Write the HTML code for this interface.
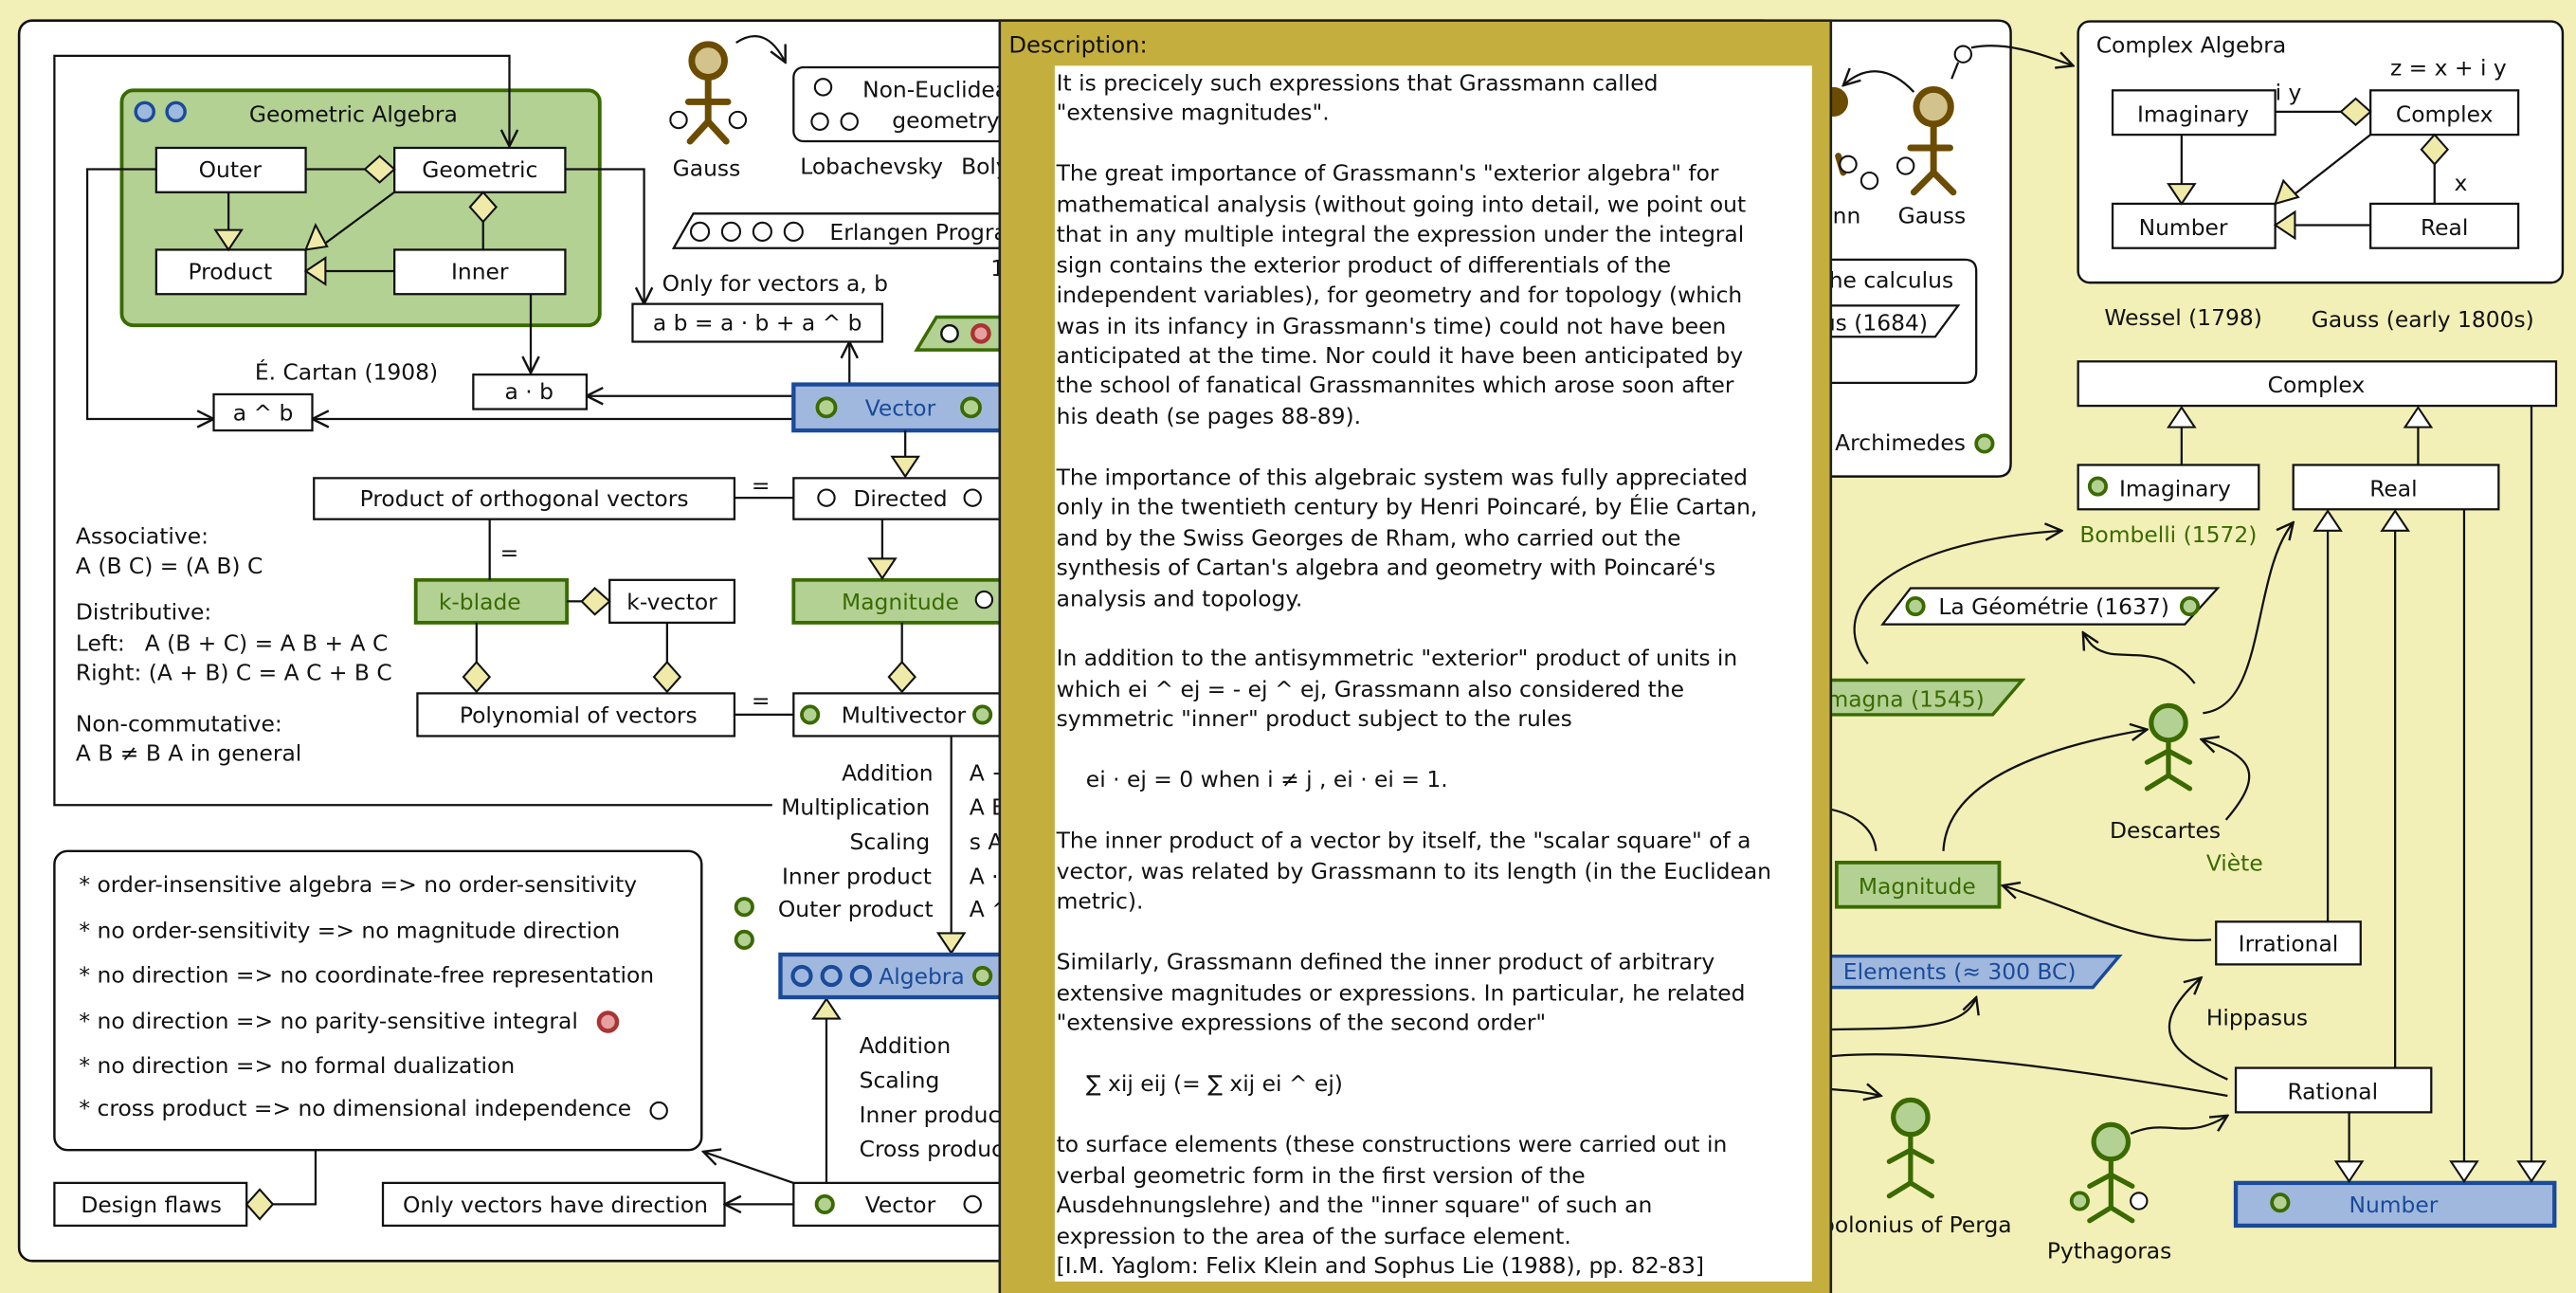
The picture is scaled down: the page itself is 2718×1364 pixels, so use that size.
<!DOCTYPE html>
<html><head><meta charset="utf-8"><style>
html,body{margin:0;padding:0;background:#f2f0b7;}
svg{display:block;}
text{font-family:"DejaVu Sans","Liberation Sans",sans-serif;font-size:13.5px;fill:#111;}
.g{fill:#3a6a00}.b{fill:#1a4a99}
</style></head><body>
<svg width="2718" height="1364" viewBox="0 0 1568 787" xmlns="http://www.w3.org/2000/svg">
<rect x="0" y="0" width="1568" height="787" fill="#f2f0b7"/>
<defs>
<marker id="oa" viewBox="0 0 12 12" refX="11" refY="6" markerWidth="12" markerHeight="12" markerUnits="userSpaceOnUse" orient="auto"><path d="M1,1 L11,6 L1,11" fill="none" stroke="#111" stroke-width="1.4"/></marker>
</defs>
<!-- main left panel -->
<rect x="11.5" y="12.5" width="1070" height="755" rx="8" fill="#fff" stroke="#111" stroke-width="1.5"/>
<!-- Geometric Algebra package -->
<rect x="74" y="55" width="291" height="143" rx="7" fill="#b3d193" stroke="#3a6a00" stroke-width="2.2"/>
<g stroke="#111" stroke-width="1.3" fill="none">
<polyline points="470,490 33,490 33,34 310,34 310,89" marker-end="url(#oa)"/>
</g>
<circle cx="88" cy="68" r="5.5" fill="#9fb8de" stroke="#1a4a99" stroke-width="2"/>
<circle cx="107" cy="68" r="5.5" fill="#9fb8de" stroke="#1a4a99" stroke-width="2"/>
<text x="215" y="74" text-anchor="middle">Geometric Algebra</text>
<g stroke="#111" stroke-width="1.3" fill="#fff">
<rect x="95" y="90" width="91" height="27"/><rect x="240" y="90" width="104" height="27"/>
<rect x="95" y="152" width="91" height="27"/><rect x="240" y="152" width="104" height="27"/>
</g>
<text x="140" y="108" text-anchor="middle">Outer</text>
<text x="292" y="108" text-anchor="middle">Geometric</text>
<text x="140" y="170" text-anchor="middle">Product</text>
<text x="292" y="170" text-anchor="middle">Inner</text>
<g stroke="#111" stroke-width="1.3" fill="none">
<line x1="186" y1="103" x2="222" y2="103"/>
<line x1="139" y1="117" x2="139" y2="140"/>
<line x1="240" y1="117" x2="198" y2="148"/>
<line x1="240" y1="165" x2="198" y2="165"/>
<line x1="294" y1="135" x2="294" y2="152"/>
<polyline points="95,103 53,103 53,255 130,255" marker-end="url(#oa)"/>
<polyline points="344,103 392,103 392,185" marker-end="url(#oa)"/>
<polyline points="323,179 323,227" marker-end="url(#oa)"/>
<polyline points="483,241 357,241" marker-end="url(#oa)"/>
<polyline points="483,255 190,255" marker-end="url(#oa)"/>
<polyline points="517,234 517,208" marker-end="url(#oa)"/>
</g>
<g stroke="#111" stroke-width="1.2" fill="#efeaa8">
<polygon points="222,103 231,95 240,103 231,111"/>
<polygon points="131,140 147,140 139,152"/>
<polygon points="186,152 192,137 199,150"/>
<polygon points="186,165 198,157 198,173"/>
<polygon points="294,117 302,126 294,135 286,126"/>
</g>
<text x="155" y="231">É. Cartan (1908)</text>
<g stroke="#111" stroke-width="1.3" fill="#fff">
<rect x="130" y="240" width="60" height="22"/><rect x="288" y="228" width="69" height="21"/>
<rect x="385" y="185" width="152" height="23"/>
</g>
<text x="160" y="256" text-anchor="middle">a ^ b</text>
<text x="322" y="243" text-anchor="middle">a · b</text>
<text x="461" y="201" text-anchor="middle">a b = a · b + a ^ b</text>
<text x="403" y="177">Only for vectors a, b</text>
<!-- Gauss left -->
<g stroke="#6b4c00" stroke-width="4" fill="none" stroke-linecap="round">
<line x1="431" y1="48" x2="431" y2="74"/><line x1="419" y1="62" x2="443" y2="62"/>
<line x1="431" y1="74" x2="420" y2="86"/><line x1="431" y1="74" x2="442" y2="86"/>
</g>
<circle cx="431" cy="37" r="10" fill="#d2c28c" stroke="#6b4c00" stroke-width="4"/>
<circle cx="413" cy="73" r="5" fill="#fff" stroke="#111" stroke-width="1.2"/>
<circle cx="449" cy="73" r="5" fill="#fff" stroke="#111" stroke-width="1.2"/>
<text x="430" y="107" text-anchor="middle">Gauss</text>
<path d="M448,26 C460,18 470,22 478,38" fill="none" stroke="#111" stroke-width="1.3" marker-end="url(#oa)"/>
<rect x="483" y="41" width="200" height="45" rx="6" fill="#fff" stroke="#111" stroke-width="1.3"/>
<g fill="#fff" stroke="#111" stroke-width="1.2"><circle cx="501" cy="53" r="5"/><circle cx="499" cy="74" r="5"/><circle cx="517" cy="74" r="5"/></g>
<text x="525" y="59">Non-Euclidean</text><text x="543" y="78">geometry</text>
<text x="487" y="106">Lobachevsky</text><text x="585" y="106">Bolyai</text>
<polygon points="422,130 640,130 640,151 410,151" fill="#fff" stroke="#111" stroke-width="1.3"/>
<g fill="#fff" stroke="#111" stroke-width="1.2"><circle cx="426" cy="141" r="5.5"/><circle cx="445" cy="141" r="5.5"/><circle cx="464" cy="141" r="5.5"/><circle cx="483" cy="141" r="5.5"/></g>
<text x="505" y="146">Erlangen Program</text>
<text x="603" y="168">1</text>
<polygon points="570,193 640,193 640,213 558,213" fill="#b3d193" stroke="#3a6a00" stroke-width="2"/>
<circle cx="578" cy="203" r="5" fill="#fff" stroke="#111" stroke-width="1.4"/>
<circle cx="597" cy="203" r="5" fill="#e6a0a0" stroke="#a33" stroke-width="2.5"/>
<!-- center column -->
<rect x="483" y="234" width="160" height="28" fill="#a0b8de" stroke="#1a4a99" stroke-width="2.5"/>
<circle cx="503" cy="248" r="5.5" fill="#b3d193" stroke="#3a6a00" stroke-width="2.2"/>
<circle cx="591" cy="248" r="5.5" fill="#b3d193" stroke="#3a6a00" stroke-width="2.2"/>
<text x="548" y="253" text-anchor="middle" class="b">Vector</text>
<g stroke="#111" stroke-width="1.3" fill="#fff">
<rect x="483" y="291" width="160" height="25"/>
<rect x="191" y="291" width="256" height="25"/>
<rect x="371" y="353" width="76" height="26"/>
<rect x="254" y="422" width="193" height="26"/>
<rect x="483" y="422" width="160" height="26"/>
</g>
<rect x="483" y="353" width="160" height="26" fill="#b3d193" stroke="#3a6a00" stroke-width="2.2"/>
<rect x="253" y="353" width="92" height="26" fill="#b3d193" stroke="#3a6a00" stroke-width="2.2"/>
<g fill="#fff" stroke="#111" stroke-width="1.2"><circle cx="503" cy="303" r="5"/><circle cx="592" cy="303" r="5"/><circle cx="599" cy="365" r="5"/></g>
<circle cx="493" cy="435" r="5" fill="#b3d193" stroke="#3a6a00" stroke-width="2.2"/>
<circle cx="598" cy="435" r="5" fill="#b3d193" stroke="#3a6a00" stroke-width="2.2"/>
<text x="548" y="308" text-anchor="middle">Directed</text>
<text x="319" y="308" text-anchor="middle">Product of orthogonal  vectors</text>
<text x="548" y="371" text-anchor="middle" class="g">Magnitude</text>
<text x="292" y="371" text-anchor="middle" class="g">k-blade</text>
<text x="409" y="371" text-anchor="middle">k-vector</text>
<text x="352" y="440" text-anchor="middle">Polynomial of vectors</text>
<text x="550" y="440" text-anchor="middle">Multivector</text>
<g stroke="#111" stroke-width="1.3" fill="none">
<line x1="551" y1="262" x2="551" y2="278"/><line x1="447" y1="303" x2="483" y2="303"/>
<line x1="537" y1="316" x2="537" y2="340"/><line x1="298" y1="316" x2="298" y2="353"/>
<line x1="345" y1="366" x2="354" y2="366"/>
<line x1="290" y1="379" x2="290" y2="403"/><line x1="406" y1="379" x2="406" y2="403"/>
<line x1="549" y1="379" x2="549" y2="403"/><line x1="447" y1="435" x2="483" y2="435"/>
<line x1="579" y1="448" x2="579" y2="568"/>
<line x1="503" y1="720" x2="503" y2="620"/>
</g>
<g stroke="#111" stroke-width="1.2" fill="#efeaa8">
<polygon points="543,278 559,278 551,290"/>
<polygon points="529,340 545,340 537,352"/>
<polygon points="354,366 362,358 371,366 362,374"/>
<polygon points="290,403 298,412 290,421 282,412"/>
<polygon points="406,403 414,412 406,421 398,412"/>
<polygon points="549,403 557,412 549,421 541,412"/>
<polygon points="571,568 587,568 579,580"/>
<polygon points="495,620 511,620 503,608"/>
</g>
<text x="463" y="300" text-anchor="middle">=</text>
<text x="310" y="341" text-anchor="middle">=</text>
<text x="463" y="431" text-anchor="middle">=</text>
<text x="46" y="331">Associative:</text><text x="46" y="349">A (B C) = (A B) C</text>
<text x="46" y="377">Distributive:</text>
<text x="46" y="396">Left:</text><text x="88" y="396">A (B + C) = A B + A C</text>
<text x="46" y="414">Right: (A + B) C = A C + B C</text>
<text x="46" y="445">Non-commutative:</text><text x="46" y="463">A B ≠ B A in general</text>
<g text-anchor="end">
<text x="568" y="475">Addition</text><text x="566" y="496">Multiplication</text>
<text x="566" y="517">Scaling</text><text x="567" y="538">Inner product</text><text x="568" y="558">Outer product</text>
</g>
<text x="590" y="475">A + B</text><text x="590" y="496">A B</text><text x="590" y="517">s A</text><text x="590" y="538">A · B</text><text x="590" y="558">A ^ B</text>
<circle cx="453" cy="552" r="5" fill="#b3d193" stroke="#3a6a00" stroke-width="2.2"/>
<circle cx="453" cy="572" r="5" fill="#b3d193" stroke="#3a6a00" stroke-width="2.2"/>
<rect x="475" y="581" width="168" height="26" fill="#a0b8de" stroke="#1a4a99" stroke-width="2.5"/>
<g fill="none" stroke="#1a4a99" stroke-width="2.4"><circle cx="488" cy="594" r="5.5"/><circle cx="506" cy="594" r="5.5"/><circle cx="524" cy="594" r="5.5"/></g>
<text x="561" y="599" text-anchor="middle" class="b">Algebra</text>
<circle cx="598" cy="594" r="5" fill="#b3d193" stroke="#3a6a00" stroke-width="2.2"/>
<text x="523" y="641">Addition</text><text x="523" y="662">Scaling</text><text x="523" y="683">Inner product</text><text x="523" y="704">Cross product</text>
<!-- flaws -->
<rect x="33" y="518" width="394" height="182" rx="8" fill="#fff" stroke="#111" stroke-width="1.4"/>
<text x="48" y="543">* order-insensitive algebra =&gt; no order-sensitivity</text>
<text x="48" y="571">* no order-sensitivity =&gt; no magnitude direction</text>
<text x="48" y="598">* no direction =&gt; no coordinate-free representation</text>
<text x="48" y="626">* no direction =&gt; no parity-sensitive integral</text>
<text x="48" y="653">* no direction =&gt; no formal dualization</text>
<text x="48" y="679">* cross product =&gt; no dimensional independence</text>
<circle cx="370" cy="622" r="5.5" fill="#e6a0a0" stroke="#a33" stroke-width="2.6"/>
<circle cx="401" cy="676" r="5" fill="#fff" stroke="#111" stroke-width="1.2"/>
<g stroke="#111" stroke-width="1.3" fill="#fff">
<rect x="33" y="720" width="117" height="26"/><rect x="233" y="720" width="208" height="26"/><rect x="483" y="720" width="160" height="26"/>
</g>
<text x="92" y="738" text-anchor="middle">Design flaws</text>
<text x="338" y="738" text-anchor="middle">Only vectors have direction</text>
<text x="548" y="738" text-anchor="middle">Vector</text>
<circle cx="502" cy="733" r="5" fill="#b3d193" stroke="#3a6a00" stroke-width="2.2"/>
<circle cx="592" cy="733" r="5" fill="#fff" stroke="#111" stroke-width="1.2"/>
<g stroke="#111" stroke-width="1.3" fill="none">
<polyline points="192,700 192,733 166,733"/>
<polyline points="483,733 441,733" marker-end="url(#oa)"/>
<polyline points="483,720 428,701" marker-end="url(#oa)"/>
</g>
<polygon points="150,733 158,724 166,733 158,742" fill="#efeaa8" stroke="#111" stroke-width="1.2"/>

<!-- middle-right panel (partly hidden) -->
<path d="M1100,12.5 L1216,12.5 Q1224,12.5 1224,20 L1224,282 Q1224,290 1216,290 L1100,290 Z" fill="#fff" stroke="#111" stroke-width="1.4"/>
<path d="M1100,158 L1196,158 Q1203,158 1203,165 L1203,226 Q1203,233 1196,233 L1100,233" fill="none" stroke="#111" stroke-width="1.3"/>
<text x="1108" y="175">the calculus</text>
<polygon points="1100,186 1192,186 1178,205 1100,205" fill="#fff" stroke="#111" stroke-width="1.3"/>
<text x="1105" y="201">lus (1684)</text>
<text x="1117" y="274">Archimedes</text>
<circle cx="1208" cy="270" r="5" fill="#b3d193" stroke="#3a6a00" stroke-width="2.2"/>
<g stroke="#6b4c00" stroke-width="4" fill="none" stroke-linecap="round">
<line x1="1177" y1="76" x2="1177" y2="105"/><line x1="1163" y1="90" x2="1187" y2="90"/>
<line x1="1177" y1="105" x2="1165" y2="117"/><line x1="1177" y1="105" x2="1189" y2="117"/>
<line x1="1119" y1="95" x2="1122" y2="105"/>
</g>
<circle cx="1177" cy="65" r="10.5" fill="#d2c28c" stroke="#6b4c00" stroke-width="4"/>
<circle cx="1116" cy="62" r="9" fill="#6b4c00"/>
<g fill="#fff" stroke="#111" stroke-width="1.2"><circle cx="1125" cy="100" r="5"/><circle cx="1138" cy="110" r="5"/><circle cx="1160" cy="101" r="5"/><circle cx="1195" cy="33" r="5"/></g>
<text x="1120" y="136" text-anchor="middle">ann</text>
<text x="1176" y="136" text-anchor="middle">Gauss</text>
<g stroke="#111" stroke-width="1.3" fill="none">
<path d="M1165,56 C1150,40 1135,40 1122,52" marker-end="url(#oa)"/>
<line x1="1188" y1="48" x2="1192" y2="38"/>
<path d="M1200,29 C1220,25 1240,32 1262,40" marker-end="url(#oa)"/>
</g>

<!-- Complex Algebra -->
<rect x="1265" y="13" width="295" height="159" rx="7" fill="#fff" stroke="#111" stroke-width="1.4"/>
<text x="1276" y="32">Complex Algebra</text>
<text x="1455" y="46">z = x + i y</text>
<g stroke="#111" stroke-width="1.3" fill="#fff">
<rect x="1286" y="55" width="99" height="27"/><rect x="1443" y="55" width="90" height="27"/>
<rect x="1286" y="124" width="99" height="27"/><rect x="1443" y="124" width="90" height="27"/>
</g>
<text x="1335" y="74" text-anchor="middle">Imaginary</text><text x="1488" y="74" text-anchor="middle">Complex</text>
<text x="1329" y="143" text-anchor="middle">Number</text><text x="1488" y="143" text-anchor="middle">Real</text>
<text x="1385" y="61">i y</text><text x="1494" y="116">x</text>
<g stroke="#111" stroke-width="1.3" fill="none">
<line x1="1385" y1="68" x2="1425" y2="68"/><line x1="1328" y1="82" x2="1328" y2="112"/>
<line x1="1443" y1="82" x2="1397" y2="118"/><line x1="1443" y1="137" x2="1397" y2="137"/>
<line x1="1482" y1="100" x2="1482" y2="124"/>
</g>
<g stroke="#111" stroke-width="1.2" fill="#efeaa8">
<polygon points="1425,68 1434,60 1443,68 1434,76"/>
<polygon points="1320,112 1336,112 1328,124"/>
<polygon points="1385,124 1390,110 1399,120"/>
<polygon points="1385,137 1397,129 1397,145"/>
<polygon points="1482,82 1490,91 1482,100 1474,91"/>
</g>
<text x="1281" y="198">Wessel (1798)</text><text x="1407" y="199">Gauss (early 1800s)</text>

<!-- number tower -->
<g stroke="#111" stroke-width="1.3" fill="#fff">
<rect x="1265" y="220" width="291" height="27"/>
<rect x="1265" y="283" width="110" height="27"/><rect x="1396" y="283" width="125" height="27"/>
<rect x="1349" y="561" width="88" height="26"/><rect x="1361" y="650" width="119" height="27"/>
</g>
<rect x="1361" y="720" width="194" height="26" fill="#a0b8de" stroke="#1a4a99" stroke-width="2.5"/>
<text x="1410" y="239" text-anchor="middle">Complex</text>
<text x="1290" y="302">Imaginary</text>
<circle cx="1277" cy="296" r="5" fill="#b3d193" stroke="#3a6a00" stroke-width="2.2"/>
<text x="1457" y="302" text-anchor="middle">Real</text>
<text x="1393" y="579" text-anchor="middle">Irrational</text>
<text x="1420" y="669" text-anchor="middle">Rational</text>
<text x="1457" y="738" text-anchor="middle" class="b">Number</text>
<circle cx="1388" cy="732" r="5" fill="#b3d193" stroke="#3a6a00" stroke-width="2.2"/>
<g stroke="#111" stroke-width="1.3" fill="none">
<line x1="1328" y1="283" x2="1328" y2="260"/><line x1="1472" y1="283" x2="1472" y2="260"/>
<line x1="1417" y1="561" x2="1417" y2="323"/><line x1="1458" y1="650" x2="1458" y2="323"/>
<line x1="1541" y1="247" x2="1541" y2="707"/><line x1="1500" y1="310" x2="1500" y2="707"/>
<line x1="1430" y1="677" x2="1430" y2="707"/>
</g>
<g stroke="#111" stroke-width="1.2" fill="#fff">
<polygon points="1320,260 1336,260 1328,248"/><polygon points="1464,260 1480,260 1472,248"/>
<polygon points="1409,323 1425,323 1417,311"/><polygon points="1450,323 1466,323 1458,311"/>
<polygon points="1533,707 1549,707 1541,719"/><polygon points="1492,707 1508,707 1500,719"/>
<polygon points="1422,707 1438,707 1430,719"/>
</g>
<text x="1266" y="330" class="g">Bombelli (1572)</text>
<polygon points="1163,358 1350,358 1330,380 1146,380" fill="#fff" stroke="#111" stroke-width="1.3"/>
<circle cx="1166" cy="369" r="5" fill="#b3d193" stroke="#3a6a00" stroke-width="2.2"/>
<circle cx="1333" cy="369" r="5" fill="#b3d193" stroke="#3a6a00" stroke-width="2.2"/>
<text x="1180" y="374">La Géométrie (1637)</text>
<polygon points="1100,414 1231,414 1213,435 1100,435" fill="#b3d193" stroke="#3a6a00" stroke-width="2"/>
<text x="1112" y="430" class="g">magna (1545)</text>
<rect x="1118" y="525" width="99" height="27" fill="#b3d193" stroke="#3a6a00" stroke-width="2.2"/>
<text x="1167" y="544" text-anchor="middle" class="g">Magnitude</text>
<polygon points="1100,582 1290,582 1274,601 1100,601" fill="#a0b8de" stroke="#1a4a99" stroke-width="2"/>
<text x="1122" y="596" class="b">Elements (≈ 300 BC)</text>
<text x="1343" y="624">Hippasus</text>
<!-- stick figures green -->
<g stroke="#3a6a00" stroke-width="3" fill="none" stroke-linecap="round">
<line x1="1320" y1="451" x2="1320" y2="472"/><line x1="1307" y1="464" x2="1320" y2="457"/><line x1="1320" y1="457" x2="1333" y2="464"/>
<line x1="1320" y1="472" x2="1307" y2="480"/><line x1="1320" y1="472" x2="1333" y2="480"/>
<line x1="1163" y1="691" x2="1163" y2="720"/><line x1="1150" y1="707" x2="1163" y2="700"/><line x1="1163" y1="700" x2="1176" y2="707"/>
<line x1="1163" y1="720" x2="1150" y2="728"/><line x1="1163" y1="720" x2="1176" y2="728"/>
<line x1="1285" y1="706" x2="1285" y2="735"/><line x1="1272" y1="722" x2="1285" y2="715"/><line x1="1285" y1="715" x2="1298" y2="722"/>
<line x1="1285" y1="735" x2="1272" y2="743"/><line x1="1285" y1="735" x2="1298" y2="743"/>
</g>
<circle cx="1320" cy="440" r="10.5" fill="#b3d193" stroke="#3a6a00" stroke-width="3"/>
<circle cx="1163" cy="680" r="10.5" fill="#b3d193" stroke="#3a6a00" stroke-width="3"/>
<circle cx="1285" cy="695" r="10.5" fill="#b3d193" stroke="#3a6a00" stroke-width="3"/>
<circle cx="1266" cy="731" r="5" fill="#b3d193" stroke="#3a6a00" stroke-width="2.2"/>
<circle cx="1302" cy="731" r="5" fill="#fff" stroke="#111" stroke-width="1.2"/>
<text x="1318" y="510" text-anchor="middle">Descartes</text>
<text x="1343" y="530" class="g">Viète</text>
<text x="1100" y="750">apolonius of Perga</text>
<text x="1284" y="766" text-anchor="middle">Pythagoras</text>
<g stroke="#111" stroke-width="1.3" fill="none">
<path d="M1137,404 C1110,370 1150,330 1255,323" marker-end="url(#oa)"/>
<path d="M1336,416 C1320,395 1300,400 1285,398 C1275,396 1272,392 1268,385" marker-end="url(#oa)"/>
<path d="M1341,434 C1380,430 1370,350 1396,318" marker-end="url(#oa)"/>
<path d="M1355,499 C1380,470 1370,460 1340,450" marker-end="url(#oa)"/>
<path d="M1183,518 C1185,470 1260,452 1307,444" marker-end="url(#oa)"/>
<path d="M1142,518 C1140,495 1110,490 1100,492"/>
<path d="M1346,572 C1300,575 1270,555 1219,539" marker-end="url(#oa)"/>
<path d="M1356,657 C1330,645 1300,630 1340,595" marker-end="url(#oa)"/>
<path d="M1356,667 C1260,650 1150,635 1100,645"/>
<path d="M1100,627 C1150,625 1195,630 1203,607" marker-end="url(#oa)"/>
<path d="M1100,660 C1115,665 1125,662 1145,667" marker-end="url(#oa)"/>
<path d="M1297,690 C1320,680 1330,695 1356,679" marker-end="url(#oa)"/>
</g>

<!-- Description overlay -->
<rect x="608.5" y="12.5" width="506" height="780" fill="#c4af3e" stroke="#222" stroke-width="1.5"/>
<text x="614" y="32" style="font-size:14px">Description:</text>
<rect x="642" y="40" width="461" height="740" fill="#fff"/>
<g style="font-size:13.9px">
<text x="643" y="55">It is precicely such expressions that Grassmann called</text>
<text x="643" y="73">"extensive magnitudes".</text>
<text x="643" y="110">The great importance of Grassmann's "exterior algebra" for</text>
<text x="643" y="129">mathematical analysis (without going into detail, we point out</text>
<text x="643" y="147">that in any multiple integral the expression under the integral</text>
<text x="643" y="166">sign contains the exterior product of differentials of the</text>
<text x="643" y="184">independent variables), for geometry and for topology (which</text>
<text x="643" y="203">was in its infancy in Grassmann's time) could not have been</text>
<text x="643" y="221">anticipated at the time. Nor could it have been anticipated by</text>
<text x="643" y="239">the school of fanatical Grassmannites which arose soon after</text>
<text x="643" y="258">his death (se pages 88-89).</text>
<text x="643" y="295">The importance of this algebraic system was fully appreciated</text>
<text x="643" y="313">only in the twentieth century by Henri Poincaré, by Élie Cartan,</text>
<text x="643" y="332">and by the Swiss Georges de Rham, who carried out the</text>
<text x="643" y="350">synthesis of Cartan's algebra and geometry with Poincaré's</text>
<text x="643" y="369">analysis and topology.</text>
<text x="643" y="405">In addition to the antisymmetric "exterior" product of units in</text>
<text x="643" y="424">which ei ^ ej = - ej ^ ej, Grassmann also considered the</text>
<text x="643" y="442">symmetric "inner" product subject to the rules</text>
<text x="661" y="479">ei · ej = 0 when i ≠ j ,  ei · ei = 1.</text>
<text x="643" y="516">The inner product of a vector by itself, the "scalar square" of a</text>
<text x="643" y="535">vector, was related by Grassmann to its length (in the Euclidean</text>
<text x="643" y="553">metric).</text>
<text x="643" y="590">Similarly, Grassmann defined the inner product of arbitrary</text>
<text x="643" y="609">extensive magnitudes or expressions. In particular, he related</text>
<text x="643" y="627">"extensive expressions of the second order"</text>
<text x="661" y="664">∑ xij eij (= ∑ xij ei ^ ej)</text>
<text x="643" y="701">to surface elements (these constructions were carried out in</text>
<text x="643" y="720">verbal geometric form in the first version of the</text>
<text x="643" y="738">Ausdehnungslehre) and the "inner square" of such an</text>
<text x="643" y="757">expression to the area of the surface element.</text>
<text x="643" y="775">[I.M. Yaglom: Felix Klein and Sophus Lie (1988), pp. 82-83]</text>
</g>
</svg>
</body></html>
